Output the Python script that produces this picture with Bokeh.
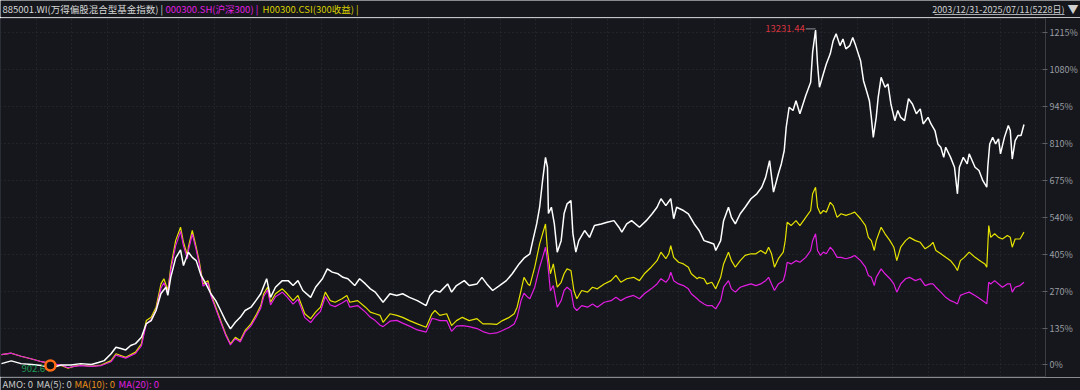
import numpy as np
from bokeh.plotting import figure
from bokeh.layouts import column
from bokeh.models import FixedTicker, PrintfTickFormatter, Range1d, ColumnDataSource, Grid
from bokeh.embed import file_html
from bokeh.resources import INLINE
from bokeh.core.properties import value

# ---------------- data (x = trading-week index since 2003/12/31, y = cumulative return %) ----
fund_week = [
    0, 10, 20, 31, 41, 51, 61, 71, 81, 92,
    99, 105, 112, 117, 122, 127, 132, 137, 143, 148,
    153, 158, 163, 168, 170, 173, 178, 183, 186, 191,
    195, 199, 204, 209, 214, 219, 224, 229, 234, 239,
    244, 249, 255, 260, 265, 271, 275, 280, 287, 293,
    298, 303, 308, 316, 321, 328, 333, 338, 344, 349,
    354, 361, 366, 372, 377, 382, 390, 397, 404, 410,
    417, 425, 434, 438, 443, 448, 456, 460, 465, 473,
    478, 486, 491, 496, 502, 509, 516, 522, 529, 534,
    540, 543, 547, 550, 553, 556, 558, 559, 562, 565,
    568, 572, 575, 578, 582, 584, 587, 590, 596, 601,
    606, 613, 619, 626, 631, 634, 639, 644, 652, 659,
    665, 670, 674, 679, 684, 687, 690, 697, 702, 708,
    713, 718, 723, 728, 730, 735, 738, 743, 746, 750,
    755, 760, 766, 772, 777, 781, 785, 789, 794, 797,
    800, 802, 805, 809, 812, 816, 822, 827, 829, 832,
    834, 836, 840, 843, 847, 850, 853, 857, 860, 863,
    867, 870, 873, 878, 881, 884, 887, 889, 891, 894,
    896, 899, 903, 906, 909, 913, 916, 919, 923, 927,
    931, 935, 939, 942, 947, 950, 954, 957, 960, 963,
    965, 970, 974, 977, 979, 983, 987, 989, 995, 999,
    1003, 1007, 1008, 1010, 1013, 1016, 1019, 1021, 1025, 1029,
    1031, 1033, 1036, 1039, 1042, 1045,
]
fund_pct = [
    5, 15, 5, 2, -2, -9.7, 0, 0, 5, 2,
    9, 16, 41, 65, 60, 55, 71, 78, 101, 151,
    162, 199, 261, 284, 254, 320, 390, 420, 363, 412,
    393, 381, 327, 296, 260, 235, 199, 162, 132, 156,
    174, 199, 211, 235, 260, 315, 247, 284, 308, 308,
    290, 308, 272, 247, 284, 315, 351, 339, 333, 320,
    315, 290, 315, 296, 278, 266, 229, 260, 254, 260,
    247, 235, 217, 254, 272, 266, 296, 266, 290, 308,
    290, 296, 320, 296, 272, 290, 308, 333, 369, 390,
    406, 454, 515, 576, 673, 758, 722, 553, 576, 516,
    412, 454, 553, 588, 600, 480, 412, 454, 491, 466,
    509, 515, 521, 527, 503, 485, 515, 527, 503, 527,
    552, 576, 607, 582, 607, 534, 576, 564, 552, 515,
    491, 454, 448, 442, 418, 454, 527, 576, 539, 515,
    552, 576, 607, 625, 649, 685, 746, 631, 698, 734,
    783, 868, 941, 929, 965, 917, 984, 1032, 1142, 1223.1,
    1099, 1014, 1063, 1099, 1136, 1184, 1209, 1166, 1190, 1154,
    1166, 1196, 1166, 1111, 1038, 1002, 965, 904, 831, 904,
    977, 1050, 1014, 1026, 953, 892, 929, 904, 892, 972,
    953, 917, 935, 880, 904, 880, 856, 807, 795, 758,
    795, 758, 722, 625, 722, 758, 734, 771, 722, 710,
    673, 649, 722, 807, 831, 807, 826, 771, 831, 874,
    856, 752, 819, 838, 838, 878,
]

index_week = [
    0, 10, 20, 31, 41, 51, 61, 68, 74, 81,
    92, 102, 112, 117, 127, 137, 143, 148, 153, 158,
    163, 166, 170, 173, 178, 183, 186, 190, 191, 195,
    199, 202, 206, 211, 214, 219, 224, 229, 234, 239,
    244, 249, 255, 260, 265, 268, 272, 275, 280, 287,
    292, 298, 303, 310, 316, 321, 326, 331, 336, 341,
    348, 353, 356, 364, 372, 377, 382, 387, 390, 397,
    404, 410, 417, 425, 434, 440, 443, 448, 455, 460,
    465, 471, 478, 486, 492, 499, 506, 512, 519, 524,
    527, 531, 534, 538, 540, 545, 550, 553, 556, 558,
    561, 564, 568, 572, 575, 578, 582, 585, 588, 593,
    599, 604, 609, 616, 623, 628, 633, 639, 646, 652,
    657, 664, 670, 674, 679, 682, 684, 687, 692, 697,
    702, 705, 711, 713, 718, 721, 726, 730, 735, 738,
    743, 746, 750, 755, 760, 766, 771, 776, 781, 784,
    787, 790, 794, 799, 801, 803, 807, 812, 816, 822,
    827, 829, 832, 834, 837, 840, 843, 847, 850, 854,
    858, 863, 868, 872, 878, 883, 886, 889, 892, 894,
    899, 903, 908, 912, 915, 919, 924, 928, 934, 939,
    944, 949, 952, 955, 960, 965, 970, 974, 977, 980,
    984, 989, 995, 1000, 1005, 1007, 1009, 1011, 1015, 1019,
    1023, 1028, 1031, 1033, 1036, 1041, 1045,
]
csi300_pct = [
    38, 43, 32, 22, 12, 5, 0, -10, -5, -2,
    -5, -2, 12, 36, 25, 42, 70, 150, 165, 200,
    280, 300, 262, 345, 435, 488, 435, 388, 418, 478,
    420, 372, 288, 300, 254, 205, 157, 110, 73, 96,
    84, 120, 143, 173, 208, 250, 274, 219, 249, 266,
    248, 222, 240, 173, 155, 178, 196, 250, 219, 213,
    226, 237, 211, 217, 193, 174, 162, 145, 140, 160,
    163, 153, 142, 128, 120, 170, 168, 162, 162, 123,
    142, 144, 140, 133, 122, 114, 117, 126, 138, 150,
    174, 235, 262, 247, 242, 284, 357, 393, 430, 381,
    270, 290, 211, 235, 272, 284, 272, 211, 199, 217,
    211, 223, 211, 229, 235, 247, 235, 247, 254, 242,
    260, 278, 296, 315, 302, 315, 339, 308, 296, 290,
    278, 260, 242, 235, 223, 217, 217, 205, 235, 284,
    308, 278, 266, 284, 290, 296, 290, 296, 308, 320,
    296, 272, 296, 308, 333, 375, 369, 381, 375, 393,
    418, 454, 479, 418, 400, 412, 406, 430, 418, 393,
    393, 388, 393, 400, 381, 357, 327, 320, 290, 320,
    351, 333, 315, 296, 266, 296, 315, 320, 308, 315,
    290, 296, 296, 284, 266, 247, 235, 229, 223, 254,
    260, 266, 254, 242, 229, 223, 302, 296, 308, 296,
    284, 296, 296, 266, 284, 290, 302,
]
csi300tr_pct = [
    38, 43, 32, 22, 12, 5, -2, -12, -5, 0,
    -5, 0, 16, 41, 28, 47, 77, 162, 174, 211,
    296, 315, 272, 357, 454, 503, 448, 400, 430, 491,
    430, 381, 296, 308, 260, 211, 162, 114, 77, 101,
    89, 126, 150, 181, 217, 260, 284, 229, 260, 278,
    260, 235, 254, 187, 169, 193, 211, 266, 235, 229,
    242, 254, 229, 235, 211, 193, 187, 181, 156, 187,
    181, 174, 162, 150, 138, 187, 199, 181, 187, 144,
    162, 174, 162, 169, 150, 150, 148, 162, 174, 187,
    211, 272, 320, 296, 290, 357, 442, 479, 515, 418,
    333, 369, 284, 302, 333, 351, 345, 272, 242, 272,
    266, 284, 278, 296, 308, 327, 302, 315, 320, 308,
    333, 357, 381, 412, 388, 406, 436, 393, 375, 369,
    357, 333, 315, 320, 315, 296, 302, 278, 320, 369,
    412, 381, 357, 381, 400, 406, 406, 418, 406, 430,
    406, 357, 388, 412, 454, 521, 509, 527, 509, 539,
    564, 625, 649, 576, 552, 564, 558, 594, 582, 539,
    552, 546, 552, 558, 534, 509, 466, 454, 418, 454,
    503, 479, 454, 430, 381, 430, 454, 466, 454, 448,
    424, 436, 448, 418, 406, 393, 381, 363, 345, 381,
    393, 412, 393, 381, 369, 357, 509, 466, 479, 466,
    460, 473, 466, 430, 460, 460, 485,
]

y_ticks = [0, 135, 270, 405, 540, 675, 810, 945, 1080, 1215]
peak_level = 13231.44
trough_level = 902.64

header_fund = "885001.WI(万得偏股混合型基金指数) |"
header_csi300 = "000300.SH(沪深300) |"
header_csi300tr = "H00300.CSI(300收益) |"
date_span = "2003/12/31-2025/07/11(5228日)"
footer_items = ["AMO: 0", "MA(5): 0", "MA(10): 0", "MA(20): 0"]

# ---------------- styling ----------------
FONT = "Noto Sans CJK SC"
BG = "#15171c"
GRID = "#2e3138"
C_FUND = "#ffffff"
C_300 = "#e21de2"
C_300TR = "#e6e200"
W = 1080
HDR_H, MAIN_H, FTR_H = 17, 360, 13

X0, X1 = -1, 1067
Y0, Y1 = -42, 1265


def strip(height):
    f = figure(width=W, height=height, x_range=Range1d(0, W), y_range=Range1d(0, height),
               output_backend="svg", toolbar_location=None, min_border=0,
               x_axis_location=None, y_axis_location=None, frame_align=False,
               background_fill_color=BG, border_fill_color=BG, outline_line_color=None)
    f.grid.visible = False
    return f


def put(f, txt, x, y, color, align="left", size="10px"):
    f.text(x=[x], y=[y], text=[txt], text_color=color, text_font=value(FONT),
           text_font_size=size, text_align=align, text_baseline="middle")


# header strip
hdr = strip(HDR_H)
hy = HDR_H - 8.5
put(hdr, header_fund, 2, hy, "#d6d6d6", size="9.5px")
put(hdr, header_csi300, 165, hy, C_300, size="9.5px")
put(hdr, header_csi300tr, 262, hy, "#d9d000", size="9.5px")
put(hdr, date_span, 1064, hy, "#cfd0d2", align="right", size="9px")
put(hdr, "▼", 1067, hy, "#d0d0d0", size="11px")
hdr.segment(x0=[934], y0=[hy - 5.5], x1=[1064], y1=[hy - 5.5], line_color="#a9aaad", line_width=1)

# main plot
p = figure(width=W, height=MAIN_H, output_backend="svg", toolbar_location=None,
           x_range=Range1d(X0, X1), y_range=Range1d(Y0, Y1),
           x_axis_location=None, y_axis_location="right", frame_align=False,
           min_border_left=0, min_border_right=32, min_border_top=1, min_border_bottom=1,
           background_fill_color=BG, border_fill_color=BG, outline_line_color="#2a2d33")
p.grid.visible = False

grid_step = (X1 - X0) * 35.8 / 1048.0
p.add_layout(Grid(dimension=0,
                  ticker=FixedTicker(ticks=list(np.arange(X0 + grid_step, X1, grid_step))),
                  grid_line_color=GRID, grid_line_dash="1 3", grid_line_width=1), "center")
p.add_layout(Grid(dimension=1, ticker=FixedTicker(ticks=y_ticks),
                  grid_line_color=GRID, grid_line_dash="1 3", grid_line_width=1), "center")

ax = p.yaxis[0]
ax.ticker = FixedTicker(ticks=y_ticks)
ax.formatter = PrintfTickFormatter(format="%d%%")
ax.axis_line_color = "#3a3d44"
ax.major_tick_line_color = "#5c5f66"
ax.major_tick_in = 3
ax.major_tick_out = 2
ax.minor_tick_line_color = None
ax.major_label_text_color = "#9a9da3"
ax.major_label_text_font = FONT
ax.major_label_text_font_size = "9px"
ax.major_label_standoff = 2

tr_src = ColumnDataSource(dict(x=index_week, y=csi300tr_pct))
hs_src = ColumnDataSource(dict(x=index_week, y=csi300_pct))
fd_src = ColumnDataSource(dict(x=fund_week, y=fund_pct))
p.line("x", "y", source=tr_src, line_color=C_300TR, line_width=1.2)
p.line("x", "y", source=hs_src, line_color=C_300, line_width=1.2)
p.line("x", "y", source=fd_src, line_color=C_FUND, line_width=1.5)

# peak annotation
i_max = int(np.argmax(fund_pct))
pk_x, pk_y = fund_week[i_max], fund_pct[i_max]
p.line([pk_x - 10, pk_x], [pk_y + 4, pk_y + 4], line_color="#8f9298", line_width=1)
p.text(x=[pk_x - 11], y=[pk_y + 4], text=[f"{peak_level:.2f}"], text_color="#d8343e",
       text_font=value(FONT), text_font_size="9.5px", text_align="right",
       text_baseline="middle")

# trough annotation + marker
i_min = int(np.argmin(fund_pct))
tr_x, tr_y = fund_week[i_min], fund_pct[i_min]
p.text(x=[tr_x - 1], y=[tr_y - 2], text=[f"{trough_level:.2f}"], text_color="#1e9c55",
       text_font=value(FONT), text_font_size="9.5px", text_align="right",
       text_baseline="middle")
p.scatter(x=[tr_x - 1], y=[tr_y + 8], size=10, marker="circle", fill_color="#101010",
          line_color="#ff6a14", line_width=2.5)

# footer strip
ftr = strip(FTR_H)
fy = FTR_H - 6.5
for txt, fx, col in zip(footer_items, [2, 36, 74, 118],
                        ["#c9c9c9", "#c9c9c9", "#e8911c", C_300]):
    put(ftr, txt, fx, fy, col, size="9.5px")

layout = column(hdr, p, ftr, spacing=0)
open("out.html", "w").write(file_html(layout, INLINE))
